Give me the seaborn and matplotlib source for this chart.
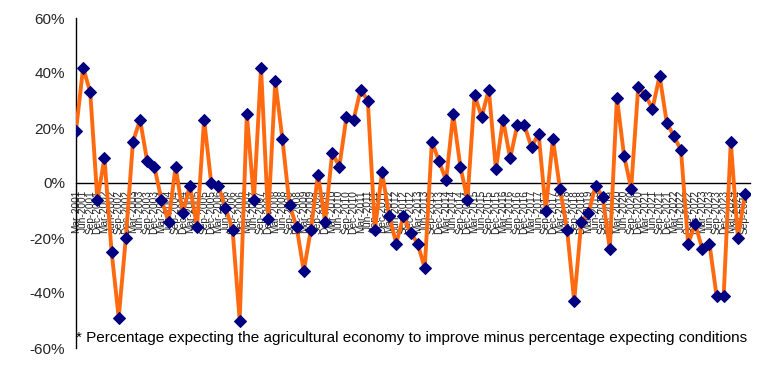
import numpy as np
import pandas as pd
import matplotlib
matplotlib.use('Agg')
import matplotlib.pyplot as plt
import seaborn as sns

# quarterly survey readings, net balance in %
months = ['Mar', 'Jun', 'Sep', 'Dec']
years = list(range(2001, 2025))
quarters = [f'{m}-{y}' for y in years for m in months][:95]

net_balance = [19, 42, 33, -6, 9, -25, -49, -20, 15, 23,
               8, 6, -6, -14, 6, -11, -1, -16, 23, 0,
               -1, -9, -17, -50, 25, -6, 42, -13, 37, 16,
               -8, -16, -32, -17, 3, -14, 11, 6, 24, 23,
               34, 30, -17, 4, -12, -22, -12, -18, -22, -31,
               15, 8, 1, 25, 6, -6, 32, 24, 34, 5,
               23, 9, 21, 21, 13, 18, -10, 16, -2, -17,
               -43, -14, -11, -1, -5, -24, 31, 10, -2, 35,
               32, 27, 39, 22, 17, 12, -22, -15, -24, -22,
               -41, -41, 15, -20, -4]

yticks = [-60, -40, -20, 0, 20, 40, 60]
ytick_labels = ['-60%', '-40%', '-20%', '0%', '20%', '40%', '60%']
footnote = '* Percentage expecting the agricultural economy to improve minus percentage expecting conditions'

df = pd.DataFrame({'idx': np.arange(len(net_balance)), 'net': net_balance})

sns.set_style('white')
plt.rcParams['font.family'] = ['Liberation Sans', 'DejaVu Sans']

fig = plt.figure(figsize=(7.83, 3.78), dpi=100)
ax = fig.add_axes([76/783, 30/378, (750-76)/783, (360-30)/378])

sns.lineplot(data=df, x='idx', y='net', ax=ax, color='#FF6A10', linewidth=2.8,
             marker='D', markersize=6.5, markerfacecolor='#000080',
             markeredgecolor='#000080', zorder=3)

# axis crosses at zero (set before tick labels, it resets the ticks)
for s in ['top', 'right']:
    ax.spines[s].set_visible(False)
ax.spines['bottom'].set_position(('data', 0))
ax.spines['bottom'].set_color('black')
ax.spines['left'].set_color('black')
ax.spines['left'].set_linewidth(1)
ax.spines['bottom'].set_linewidth(1)

ax.set_xlim(0, 94.7)
ax.set_ylim(-60, 60)
ax.set_yticks(yticks)
ax.set_yticklabels(ytick_labels, fontsize=11)
ax.set_xticks(df['idx'])
ax.set_xticklabels(quarters, rotation=90, fontsize=7.3, va='top', ha='center')
ax.set_xlabel('')
ax.set_ylabel('')

ax.tick_params(axis='y', direction='out', length=5, width=1, color='black', pad=3)
ax.tick_params(axis='x', direction='out', length=3, width=1, color='black', pad=2)

ax.text(0.0, -56.5, footnote, fontsize=11, ha='left', va='center', color='black')

fig.savefig('out.png', dpi=100)
